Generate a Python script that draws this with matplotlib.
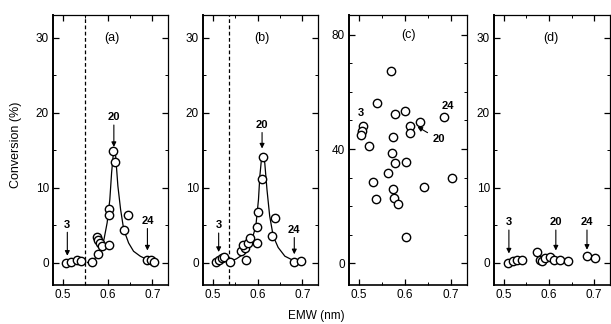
import numpy as np
import matplotlib.pyplot as plt
from matplotlib.ticker import MultipleLocator

plt.rcParams['font.family'] = ['Liberation Sans', 'DejaVu Sans']

# data
# (a)
a_x = [0.507, 0.519, 0.531, 0.541, 0.566, 0.577, 0.579, 0.584, 0.578, 0.588, 0.603,
       0.603, 0.603, 0.613, 0.616, 0.636, 0.645, 0.688, 0.696, 0.704]
a_y = [0.0, 0.1, 0.3, 0.2, 0.1, 3.4, 3.0, 2.6, 1.1, 2.2, 2.3,
       7.1, 6.3, 14.9, 13.4, 4.3, 6.3, 0.4, 0.3, 0.1]
a_fit_x = [0.555, 0.570, 0.581, 0.592, 0.599, 0.605, 0.609, 0.613, 0.615, 0.618, 0.623,
           0.629, 0.636, 0.647, 0.658, 0.673, 0.688, 0.704]
a_fit_y = [0.0, 0.4, 1.3, 3.1, 5.3, 8.4, 12.0, 14.6, 15.1, 14.2, 10.2,
           7.1, 4.4, 2.6, 1.5, 0.84, 0.4, 0.1]
# (b)
b_x = [0.508, 0.513, 0.520, 0.526, 0.538, 0.563, 0.571, 0.574, 0.568, 0.578, 0.583,
       0.599, 0.599, 0.602, 0.609, 0.612, 0.632, 0.639, 0.681, 0.698]
b_y = [0.1, 0.4, 0.6, 0.7, 0.1, 1.5, 2.0, 0.4, 2.4, 2.6, 3.3,
       2.6, 4.8, 6.7, 11.2, 14.1, 3.5, 6.0, 0.1, 0.2]
b_fit_x = [0.538, 0.553, 0.563, 0.574, 0.585, 0.596, 0.602, 0.605, 0.609, 0.612, 0.616,
           0.621, 0.627, 0.635, 0.646, 0.661, 0.679, 0.700]
b_fit_y = [0.1, 0.5, 0.9, 1.3, 2.6, 4.8, 8.4, 11.5, 14.0, 14.3, 13.3,
           9.7, 6.2, 3.5, 2.0, 0.84, 0.3, 0.1]
# (c)
c_x = [0.509, 0.507, 0.505, 0.521, 0.530, 0.537, 0.563, 0.572, 0.574, 0.574, 0.576, 0.579,
       0.584, 0.579, 0.600, 0.602, 0.611, 0.611, 0.633, 0.641, 0.602, 0.684, 0.702,
       0.570, 0.539]
c_y = [48.2, 46.4, 44.9, 41.1, 28.5, 22.3, 31.5, 38.5, 44.3, 25.9, 22.7, 35.2,
       20.6, 52.2, 53.2, 35.5, 48.1, 45.7, 49.5, 26.6, 9.0, 51.2, 29.7,
       67.5, 56.0]
# (d)
d_x = [0.510, 0.519, 0.528, 0.539, 0.574, 0.579, 0.585, 0.590, 0.601, 0.612, 0.624,
       0.642, 0.685, 0.702]
d_y = [0.0, 0.2, 0.3, 0.4, 1.4, 0.4, 0.2, 0.55, 0.7, 0.4, 0.3,
       0.2, 0.9, 0.55]

# arrow labels: (text, x, text y, tip y)
a_marks = [("3", 0.510, 4.4, 0.9), ("20", 0.614, 18.7, 15.4), ("24", 0.689, 4.9, 1.6)]
b_marks = [("3", 0.513, 4.3, 1.4), ("20", 0.610, 17.7, 15.2), ("24", 0.682, 3.7, 1.1)]
d_marks = [("3", 0.511, 4.7, 1.2), ("20", 0.615, 4.7, 1.6), ("24", 0.684, 4.7, 1.7)]

fig = plt.figure(figsize=(6.11, 3.24), dpi=100)
bot, hgt = 39 / 324, 270 / 324
lefts = [53, 203, 349, 494]
widths = [115, 115, 118, 116]
axs = [fig.add_axes([l / 611, bot, w / 611, hgt]) for l, w in zip(lefts, widths)]

mk = dict(ls='none', marker='o', ms=6, mfc='white', mec='black', mew=1.0, zorder=3)

def style(ax, ylim, major, minor):
    ax.set_xlim(0.478, 0.735)
    ax.set_ylim(*ylim)
    ax.xaxis.set_major_locator(MultipleLocator(0.1))
    ax.xaxis.set_minor_locator(MultipleLocator(0.05))
    ax.yaxis.set_major_locator(MultipleLocator(major))
    ax.yaxis.set_minor_locator(MultipleLocator(minor))
    ax.tick_params(which='both', direction='in', top=True, right=True,
                   labelsize=8.5, pad=3)
    ax.tick_params(which='major', length=4, width=0.9)
    ax.tick_params(which='minor', length=2, width=0.7)
    for s in ax.spines.values():
        s.set_linewidth(0.9)
    ax.spines['left'].set_linewidth(1.4)
    ax.spines['bottom'].set_linewidth(1.2)
    ax.set_xticks([0.5, 0.6, 0.7])
    ax.set_xticklabels(['0.5', '0.6', '0.7'])

def arrows(ax, marks):
    for t, x, ty, tip in marks:
        ax.annotate(t, xy=(x, tip), xytext=(x, ty), ha='center', va='bottom',
                    fontsize=8, fontweight='bold',
                    arrowprops=dict(arrowstyle='-|>', lw=0.8, color='black',
                                    mutation_scale=7, shrinkA=0, shrinkB=0))

# (a)
ax = axs[0]
style(ax, (-3, 33), 10, 5)
ax.plot(a_fit_x, a_fit_y, color='black', lw=0.9, zorder=2)
ax.plot(a_x, a_y, **mk)
ax.axvline(0.55, color='black', ls=(0, (3, 2)), lw=0.9)
arrows(ax, a_marks)
ax.text(0.61, 30, '(a)', ha='center', va='center', fontsize=9)
ax.set_yticks([0, 10, 20, 30])

# (b)
ax = axs[1]
style(ax, (-3, 33), 10, 5)
ax.plot(b_fit_x, b_fit_y, color='black', lw=0.9, zorder=2)
ax.plot(b_x, b_y, **mk)
ax.axvline(0.537, color='black', ls=(0, (3, 2)), lw=0.9)
arrows(ax, b_marks)
ax.text(0.61, 30, '(b)', ha='center', va='center', fontsize=9)

# (c)
ax = axs[2]
style(ax, (-7.7, 87), 40, 10)
ax.plot(c_x, c_y, **mk)
ax.text(0.504, 51, '3', ha='center', va='bottom', fontsize=8, fontweight='bold')
ax.text(0.694, 53.5, '24', ha='center', va='bottom', fontsize=8, fontweight='bold')
ax.annotate('20', xy=(0.627, 47.8), xytext=(0.674, 43.4), ha='center', va='center',
            fontsize=8, fontweight='bold',
            arrowprops=dict(arrowstyle='-|>', lw=0.8, color='black',
                            mutation_scale=7, shrinkA=2, shrinkB=0))
ax.text(0.607, 80, '(c)', ha='center', va='center', fontsize=9)

# (d)
ax = axs[3]
style(ax, (-3, 33), 10, 5)
ax.plot(d_x, d_y, **mk)
arrows(ax, d_marks)
ax.text(0.604, 30, '(d)', ha='center', va='center', fontsize=9)

fig.text(16 / 611, 1 - 145 / 324, 'Conversion (%)', rotation=90,
         ha='center', va='center', fontsize=9)
fig.text(316 / 611, 2 / 324, 'EMW (nm)', ha='center', va='bottom', fontsize=8.5)

fig.savefig('out.png', dpi=100)
